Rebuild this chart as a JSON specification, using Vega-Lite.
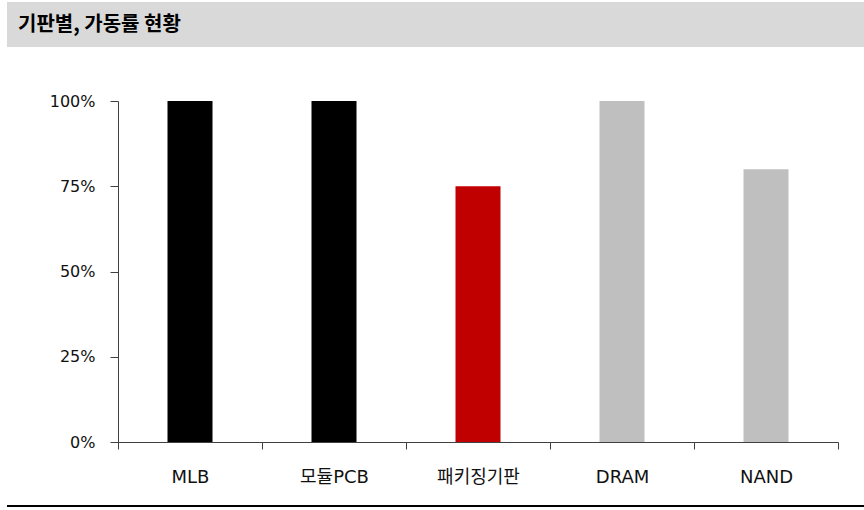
{
  "$schema": "https://vega.github.io/schema/vega-lite/v6.json",
  "padding": {"left": 7, "top": 2, "right": 0, "bottom": 0},
  "background": "#ffffff",
  "config": {"view": {"stroke": null}},
  "datasets": {
    "bars": [
      {"substrate": "MLB", "rate": 1.0, "group": "PCB"},
      {"substrate": "모듈PCB", "rate": 1.0, "group": "PCB"},
      {"substrate": "패키징기판", "rate": 0.75, "group": "패키징"},
      {"substrate": "DRAM", "rate": 1.0, "group": "메모리"},
      {"substrate": "NAND", "rate": 0.8, "group": "메모리"}
    ],
    "header": [{"title": "기판별, 가동률 현황"}]
  },
  "spacing": 46,
  "vconcat": [
    {
      "width": 857,
      "height": 45,
      "data": {"name": "header"},
      "layer": [
        {
          "mark": {"type": "rect", "color": "#d9d9d9"},
          "encoding": {}
        },
        {
          "mark": {
            "type": "text",
            "align": "left",
            "baseline": "middle",
            "dx": 11,
            "font": "Noto Sans CJK KR",
            "fontSize": 20,
            "fontWeight": "bold",
            "color": "#000000"
          },
          "encoding": {
            "x": {"datum": 0, "type": "quantitative", "scale": {"domain": [0, 1]}, "axis": null},
            "text": {"field": "title"}
          }
        }
      ]
    },
    {
      "spacing": 19,
      "vconcat": [
        {
          "width": 857,
          "height": 341,
          "data": {"name": "bars"},
          "mark": {"type": "bar", "width": {"band": 0.3125}},
          "encoding": {
            "x": {
              "field": "substrate",
              "type": "nominal",
              "sort": null,
              "scale": {"range": [111, 831], "paddingInner": 0, "paddingOuter": 0},
              "axis": {
                "title": null,
                "labelAngle": 0,
                "tickBand": "extent",
                "tickSize": 7,
                "labelPadding": 19,
                "labelFont": "DejaVu Sans, Noto Sans CJK KR",
                "labelFontSize": 18,
                "labelColor": "#111111",
                "domainColor": "#404040",
                "tickColor": "#404040"
              }
            },
            "y": {
              "field": "rate",
              "type": "quantitative",
              "scale": {"domain": [0, 1], "nice": false},
              "axis": {
                "title": null,
                "offset": -111,
                "values": [0, 0.25, 0.5, 0.75, 1],
                "format": ".0%",
                "grid": false,
                "tickSize": 8,
                "labelPadding": 15,
                "labelFont": "DejaVu Sans, Noto Sans CJK KR",
                "labelFontSize": 16,
                "labelColor": "#111111",
                "domainColor": "#404040",
                "tickColor": "#404040"
              }
            },
            "color": {
              "field": "group",
              "type": "nominal",
              "scale": {"domain": ["PCB", "패키징", "메모리"], "range": ["#000000", "#c00000", "#bfbfbf"]},
              "legend": null
            }
          }
        },
        {
          "width": 857,
          "height": 2,
          "data": {"name": "header"},
          "mark": {"type": "rect", "color": "#000000"},
          "encoding": {}
        }
      ]
    }
  ]
}
